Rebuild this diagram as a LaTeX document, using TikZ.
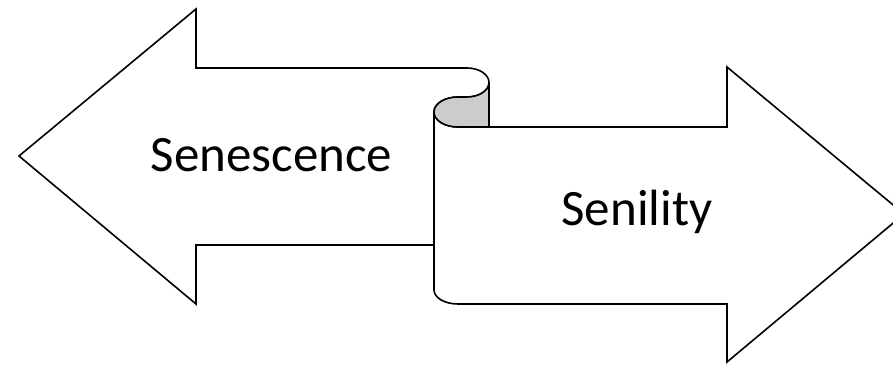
\documentclass[tikz,border=0pt]{standalone}
\usepackage{fontspec}
\setmainfont{Carlito}
\definecolor{curlgray}{RGB}{204,204,204}
\begin{document}
\begin{tikzpicture}[x=1pt,y=-1pt,
  outline/.style={draw=black,line width=1.6pt,line join=miter},
  label/.style={font=\fontsize{51}{60}\selectfont,anchor=base,inner sep=0pt}]
\useasboundingbox (0,0) rectangle (893,364);
\clip (0,0) rectangle (893,364);

% left-pointing arrow, its shaft ending in the rolled top
\path[outline,fill=white]
  (434,245) -- (196,245) -- (196,304) -- (19,156) -- (196,9) -- (196,68)
  -- (467,68)
  .. controls (479.2,68) and (489,74.5) .. (489,82.5)
  .. controls (489,90.5) and (479.2,97) .. (467,97)
  -- (458,97)
  .. controls (444.7,97) and (434,103.7) .. (434,112)
  -- cycle;

% right-pointing arrow with the folded flap on its left edge
\path[outline,fill=white]
  (434,112) -- (434,290)
  .. controls (434,297.7) and (444.7,304) .. (458,304)
  -- (727,304) -- (727,362) -- (904,214) -- (727,67) -- (727,127)
  -- (458,127)
  .. controls (444.7,127) and (434,120.3) .. (434,112)
  -- cycle;

% shaded underside of the roll
\path[outline,fill=curlgray]
  (489,82.5)
  .. controls (489,90.5) and (479.2,97) .. (467,97)
  -- (458,97)
  .. controls (444.7,97) and (434,103.7) .. (434,112)
  .. controls (434,120.3) and (444.7,127) .. (458,127)
  -- (489,127) -- cycle;

\node[label] (senescence) at (271.5,171) {Senescence};
\node[label] (senility) at (637,225) {Senility};
\end{tikzpicture}
\end{document}
